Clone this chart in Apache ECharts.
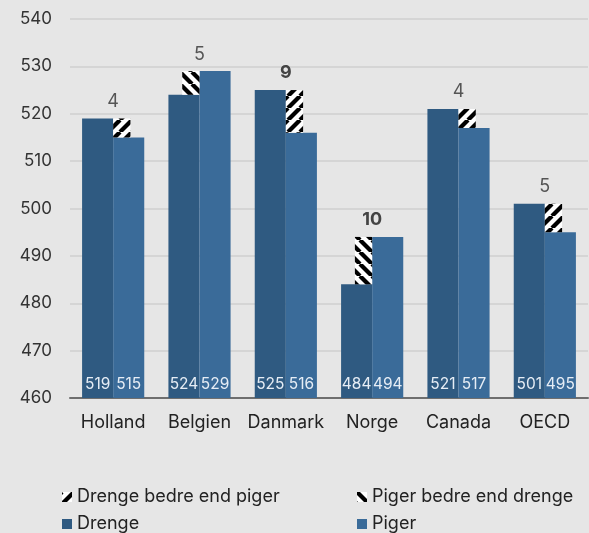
<!DOCTYPE html>
<html><head><meta charset="utf-8">
<script src="https://cdn.jsdelivr.net/npm/echarts@6/dist/echarts.min.js"></script>
<style>html,body{margin:0;padding:0;background:#e6e6e6}#c{width:589px;height:533px}</style>
</head><body><div id="c"></div>
<script>
const categories = ['Holland','Belgien','Danmark','Norge','Canada','OECD'];
const drenge = [519,524,525,484,521,501];
const piger = [515,529,516,494,517,495];
const diffLabels = ['4','5','9','10','4','5'];
const diffBold = [false,false,true,true,false,false];
const yTicks = {min:460,max:540,interval:10};

function stripe(dir){
  const s=12;
  const c=document.createElement('canvas');c.width=s;c.height=s;
  const g=c.getContext('2d');g.fillStyle='#fff';g.fillRect(0,0,s,s);
  g.strokeStyle='#000';g.lineWidth=4.2;
  for(let k=-2;k<=2;k++){
    g.beginPath();
    if(dir>0){g.moveTo(k*s,s);g.lineTo(k*s+s,0);}else{g.moveTo(k*s,0);g.lineTo(k*s+s,s);}
    g.stroke();
  }
  return {image:c,repeat:'repeat'};
}
const patD = stripe(1), patP = stripe(-1);

const dBetter=[],pBetter=[];
categories.forEach((c,i)=>{
  const lo=Math.min(drenge[i],piger[i]),hi=Math.max(drenge[i],piger[i]);
  const item=[i,lo,hi];
  if(drenge[i]>piger[i]) dBetter.push(item); else pBetter.push(item);
});

function makeRender(side){
  return function(params,api){
    const i=api.value(0);
    const p0=api.coord([i,api.value(1)]);
    const p1=api.coord([i,api.value(2)]);
    const band=api.size([1,0])[0];
    const w=band*0.2;
    const x= side>0 ? p0[0] : p0[0]-w;
    return {type:'group',children:[
      {type:'rect',shape:{x:x,y:p1[1],width:w,height:p0[1]-p1[1]},style:{fill:api.visual('color')}},
      {type:'text',x:p0[0],y:p1[1]-8,style:{text:diffLabels[i],textAlign:'center',textVerticalAlign:'bottom',
        fill:diffBold[i]?'#444':'#555',fontSize:18,fontWeight:diffBold[i]?'bold':'normal',fontFamily:'Inter'}}
    ]};
  };
}

const lbl={show:true,position:'insideBottom',distance:6,color:'#e6edf5',fontSize:15.5,fontFamily:'Inter'};
const lg=(name,left,top)=>({orient:'horizontal',left:left,top:top,itemWidth:10,itemHeight:10,itemGap:10,icon:'rect',
  padding:0,itemTextGap:6,selectedMode:false,textStyle:{fontSize:18,color:'#222',fontFamily:'Inter'},data:[name]});
const chart=echarts.init(document.getElementById('c'));
chart.setOption({
  backgroundColor:'#e6e6e6',
  textStyle:{fontFamily:'Inter'},
  animation:false,
  grid:{left:70,right:1,top:19,bottom:135},
  xAxis:{type:'category',data:categories,axisTick:{show:false},
    axisLine:{lineStyle:{color:'#6e6e6e',width:2}},
    axisLabel:{color:'#222',fontSize:18,margin:16,interval:0,fontFamily:'Inter'}},
  yAxis:{type:'value',min:yTicks.min,max:yTicks.max,interval:yTicks.interval,
    axisLabel:{color:'#333',fontSize:17,margin:18,fontFamily:'Inter'},
    splitLine:{lineStyle:{color:'#d5d5d5',width:2}},axisLine:{show:false}},
  legend:[
    lg('Drenge bedre end piger',62,488),
    lg('Drenge',62,515),
    lg('Piger bedre end drenge',357,488),
    lg('Piger',357,515)
  ],
  series:[
    {name:'Drenge',type:'bar',data:drenge,barWidth:'36%',barGap:'0%',itemStyle:{color:'#2f5a81'},label:lbl},
    {name:'Piger',type:'bar',data:piger,barWidth:'36%',barGap:'0%',itemStyle:{color:'#3a6b99'},label:lbl},
    {name:'Drenge bedre end piger',type:'custom',data:dBetter,renderItem:makeRender(1),itemStyle:{color:patD},z:5,
     encode:{x:0,y:[1,2]}},
    {name:'Piger bedre end drenge',type:'custom',data:pBetter,renderItem:makeRender(-1),itemStyle:{color:patP},z:5,
     encode:{x:0,y:[1,2]}}
  ]
});
</script></body></html>
